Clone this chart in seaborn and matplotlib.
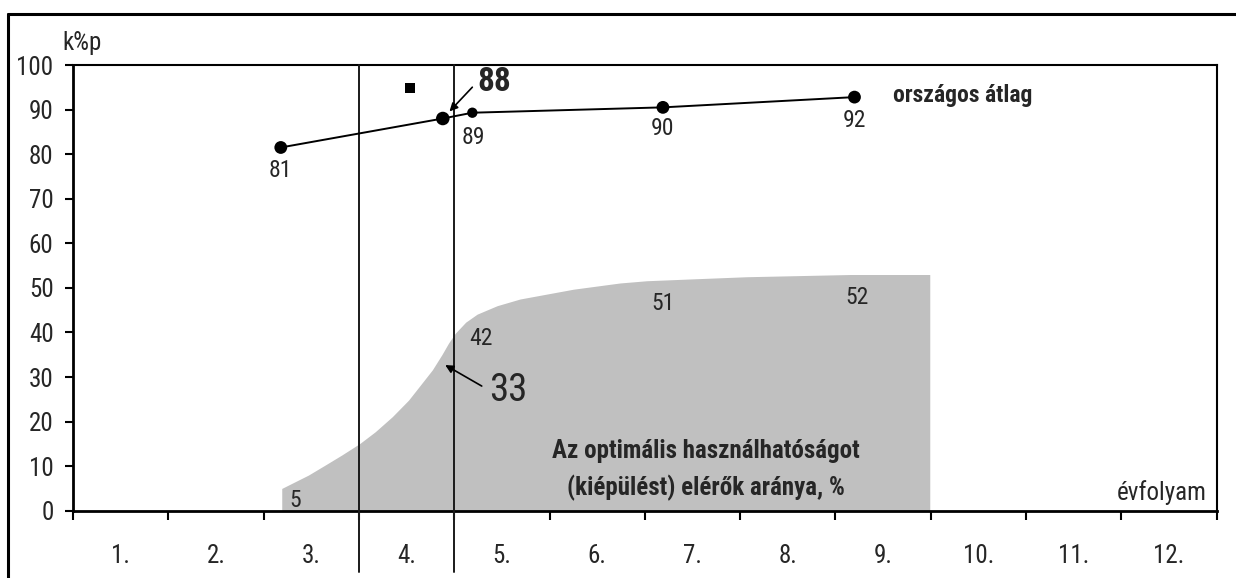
import numpy as np
import matplotlib
matplotlib.use('Agg')
import matplotlib.pyplot as plt
from matplotlib import font_manager
from matplotlib.lines import Line2D
import seaborn as sns

# grades on the x axis
grades = ['1.', '2.', '3.', '4.', '5.', '6.', '7.', '8.', '9.', '10.', '11.', '12.']

# national average (k%p), measured at these positions along the grade axis
avg_x = [2.68, 4.38, 4.69, 6.69, 8.70]
avg_y = [81.5, 88.0, 89.3, 90.5, 92.8]
avg_labels = ['81', '88', '89', '90', '92']

# share reaching optimal usability, %
share_y = [5, 33, 42, 51, 52]
share_labels = ['5', '33', '42', '51', '52']

# outline of the grey area
curve_x = [2.69, 2.83, 2.97, 3.15, 3.32, 3.51, 3.67, 3.85, 4.02, 4.16, 4.27, 4.37, 4.44,
           4.51, 4.62, 4.74, 4.95, 5.19, 5.47, 5.75, 6.24, 6.52, 6.98, 7.57, 8.66, 9.49]
curve_y = [5.0, 6.5, 8.0, 10.3, 12.5, 15.1, 17.7, 21.1, 24.8, 28.6, 31.6, 35.0, 37.6,
           39.8, 42.3, 44.1, 46.0, 47.5, 48.6, 49.7, 51.1, 51.6, 52.0, 52.5, 53.0, 53.0]

# the single square point
sq_x = [4.04]
sq_y = [94.8]

sns.set_theme(style='ticks')

# narrow font if there is one
names = {f.name for f in font_manager.fontManager.ttflist}
narrow = 'DejaVu Sans'
for cand in ['Liberation Sans Narrow', 'Arial Narrow', 'Roboto Condensed', 'Open Sans Condensed']:
    if cand in names:
        narrow = cand
        break
plt.rcParams['font.family'] = [narrow, 'DejaVu Sans']

fig, ax = plt.subplots(figsize=(12.36, 5.78), dpi=100)
fig.subplots_adjust(left=0.0591, right=0.9843, bottom=0.1164, top=0.8875)

ax.fill_between(curve_x, 0, curve_y, color='#c0c0c0', lw=0, zorder=1)

sns.lineplot(x=avg_x, y=avg_y, ax=ax, color='black', lw=1.4, zorder=4)
ax.scatter(avg_x, avg_y, s=[85, 95, 55, 85, 85], color='black', zorder=5, linewidths=0)
ax.scatter(sq_x, sq_y, marker='s', s=60, color='black', zorder=5, linewidths=0)

for xv in [3.5, 4.5]:
    ax.axvline(xv, ymin=-0.1375, ymax=1, clip_on=False, color='#1a1a1a', lw=1.4, zorder=3)

ax.set_xlim(0.5, 12.5)
ax.set_ylim(0, 100)
ax.set_xticks(np.arange(0.5, 13, 1))
ax.set_xticklabels([])
ax.set_xticks(range(1, 13), minor=True)
ax.set_xticklabels(grades, minor=True)
ax.tick_params(axis='x', which='major', length=6.5, width=1.5, color='black')
ax.tick_params(axis='x', which='minor', length=0, pad=24, labelsize=18)
ax.set_yticks(range(0, 101, 10))
ax.tick_params(axis='y', length=6, width=1.5, pad=8, labelsize=18, color='black')
for s in ax.spines.values():
    s.set_visible(True)
    s.set_color('black')
    s.set_linewidth(1.5)
ax.spines['left'].set_linewidth(2)
ax.spines['bottom'].set_linewidth(2)

# labels of the average line
offs = {0: (0, -16.5), 2: (1, -18), 3: (0, -15), 4: (0, -16.5)}
for i, (xv, yv, lab) in enumerate(zip(avg_x, avg_y, avg_labels)):
    if i == 1:
        ax.annotate(lab, (xv, yv), xytext=(25, 26.5), textcoords='offset points',
                    ha='left', va='center', fontsize=24, fontweight='bold',
                    arrowprops=dict(arrowstyle='-|>', color='black', lw=1.2,
                                    relpos=(0, 0.5), shrinkA=2, shrinkB=7, mutation_scale=12))
    else:
        ax.annotate(lab, (xv, yv), xytext=offs[i], textcoords='offset points',
                    ha='center', va='center', fontsize=17)

# labels of the grey area
soffs = {0: (10, -8.5), 2: (6, -11), 3: (0, -14.5), 4: (2, -13)}
for i, (xv, yv, lab) in enumerate(zip(avg_x, share_y, share_labels)):
    if i == 1:
        ax.annotate(lab, (xv, yv), xytext=(33, -19), textcoords='offset points',
                    ha='left', va='center', fontsize=28,
                    arrowprops=dict(arrowstyle='-|>', color='black', lw=1.2,
                                    relpos=(0, 0.5), shrinkA=3, shrinkB=2, mutation_scale=12))
    else:
        ax.annotate(lab, (xv, yv), xytext=soffs[i], textcoords='offset points',
                    ha='center', va='center', fontsize=17)

ax.text(9.1, 91.8, 'országos átlag', fontsize=17, fontweight='bold', ha='left', va='baseline')
ax.text(7.14, 13.4, 'Az optimális használhatóságot', fontsize=18, fontweight='bold',
        ha='center', va='center', zorder=6)
ax.text(7.14, 5.1, '(kiépülést) elérők aránya, %', fontsize=18, fontweight='bold',
        ha='center', va='center', zorder=6)
ax.text(0.991, 0.04, 'évfolyam', transform=ax.transAxes, fontsize=18, ha='right', va='center')
ax.text(-0.009, 1.049, 'k%p', transform=ax.transAxes, fontsize=18, ha='left', va='center')

# outer frame (left and top edges only are in the picture)
fig.add_artist(Line2D([8 / 1236, 8 / 1236], [0, 1 - 14 / 578], transform=fig.transFigure,
                      color='black', lw=2.2))
fig.add_artist(Line2D([8 / 1236, 1], [1 - 14 / 578, 1 - 14 / 578], transform=fig.transFigure,
                      color='black', lw=2.2))

fig.savefig('out.png', dpi=100)
